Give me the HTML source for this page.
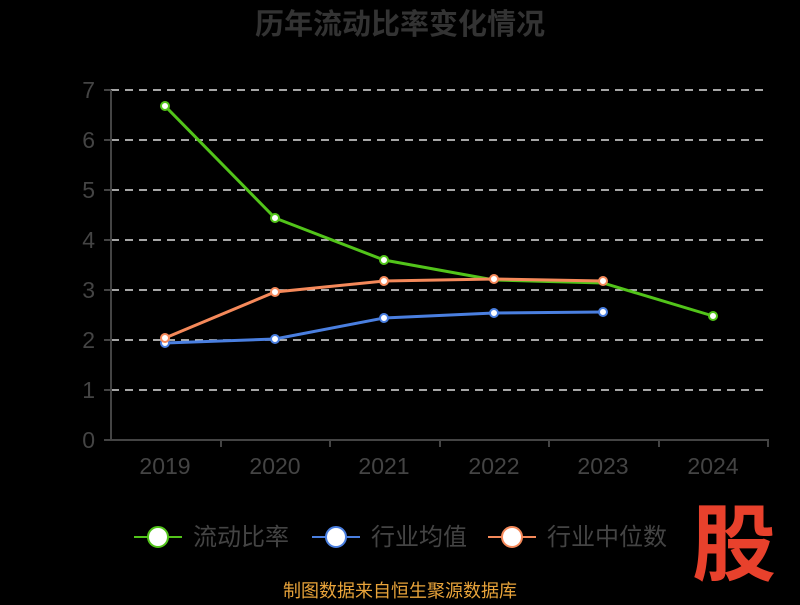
<!DOCTYPE html>
<html><head><meta charset="utf-8"><style>
body{margin:0;background:#000;width:800px;height:600px;overflow:hidden}
</style></head><body>
<svg width="800" height="600" xmlns="http://www.w3.org/2000/svg" font-family="Liberation Sans, Noto Sans CJK SC, sans-serif">
<rect width="800" height="600" fill="#000"/>
<text x="400" y="34" text-anchor="middle" font-size="29" font-weight="bold" fill="#333">历年流动比率变化情况</text>
<g stroke="#ddd" stroke-width="1.5" stroke-dasharray="8,6">
<line x1="111" x2="768" y1="90" y2="90"/><line x1="111" x2="768" y1="140" y2="140"/>
<line x1="111" x2="768" y1="190" y2="190"/><line x1="111" x2="768" y1="240" y2="240"/>
<line x1="111" x2="768" y1="290" y2="290"/><line x1="111" x2="768" y1="340" y2="340"/>
<line x1="111" x2="768" y1="390" y2="390"/>
</g>
<g stroke="#444" stroke-width="2">
<line x1="111" x2="111" y1="90" y2="441"/><line x1="110" x2="769" y1="440" y2="440"/>
<line x1="104" x2="111" y1="90" y2="90"/><line x1="104" x2="111" y1="140" y2="140"/><line x1="104" x2="111" y1="190" y2="190"/><line x1="104" x2="111" y1="240" y2="240"/><line x1="104" x2="111" y1="290" y2="290"/><line x1="104" x2="111" y1="340" y2="340"/><line x1="104" x2="111" y1="390" y2="390"/><line x1="104" x2="111" y1="440" y2="440"/>
<line x1="221" x2="221" y1="440" y2="447"/><line x1="330" x2="330" y1="440" y2="447"/><line x1="440" x2="440" y1="440" y2="447"/><line x1="549" x2="549" y1="440" y2="447"/><line x1="659" x2="659" y1="440" y2="447"/><line x1="768" x2="768" y1="440" y2="447"/>
</g>
<g fill="#444" font-size="23" text-anchor="end">
<text x="95" y="98">7</text><text x="95" y="148">6</text><text x="95" y="198">5</text><text x="95" y="248">4</text><text x="95" y="298">3</text><text x="95" y="348">2</text><text x="95" y="398">1</text><text x="95" y="448">0</text>
</g>
<g fill="#444" font-size="23" text-anchor="middle">
<text x="165" y="474">2019</text><text x="275" y="474">2020</text><text x="384" y="474">2021</text><text x="494" y="474">2022</text><text x="603" y="474">2023</text><text x="713" y="474">2024</text>
</g>
<polyline fill="none" stroke="#52c41a" stroke-width="3" points="165,106 275,218 384,260 494,280 603,283 713,316"/>
<polyline fill="none" stroke="#4a7fe0" stroke-width="3" points="165,343 275,339 384,318 494,313 603,312"/>
<polyline fill="none" stroke="#f5895a" stroke-width="3" points="165,338 275,292 384,281 494,279 603,281"/>
<g fill="#fff" stroke="#52c41a" stroke-width="2"><circle cx="165" cy="106" r="4"/><circle cx="275" cy="218" r="4"/><circle cx="384" cy="260" r="4"/><circle cx="713" cy="316" r="4"/></g>
<g fill="#fff" stroke="#4a7fe0" stroke-width="2"><circle cx="165" cy="343" r="4"/><circle cx="275" cy="339" r="4"/><circle cx="384" cy="318" r="4"/><circle cx="494" cy="313" r="4"/><circle cx="603" cy="312" r="4"/></g>
<g fill="#fff" stroke="#f5895a" stroke-width="2"><circle cx="165" cy="338" r="4"/><circle cx="275" cy="292" r="4"/><circle cx="384" cy="281" r="4"/><circle cx="494" cy="279" r="4"/><circle cx="603" cy="281" r="4"/></g>
<g font-size="24" fill="#444">
<line x1="134" x2="182" y1="537" y2="537" stroke="#52c41a" stroke-width="2"/><circle cx="158" cy="537" r="10" fill="#fff" stroke="#52c41a" stroke-width="2"/><text x="193" y="545">流动比率</text>
<line x1="312" x2="360" y1="537" y2="537" stroke="#4a7fe0" stroke-width="2"/><circle cx="336" cy="537" r="10" fill="#fff" stroke="#4a7fe0" stroke-width="2"/><text x="371" y="545">行业均值</text>
<line x1="488" x2="536" y1="537" y2="537" stroke="#f5895a" stroke-width="2"/><circle cx="512" cy="537" r="10" fill="#fff" stroke="#f5895a" stroke-width="2"/><text x="547" y="545">行业中位数</text>
</g>
<text x="734" y="574" text-anchor="middle" font-size="84" font-weight="bold" fill="#e8412c">股</text>
<text x="400" y="597" text-anchor="middle" font-size="18" fill="#e8a33a">制图数据来自恒生聚源数据库</text>
</svg>
</body></html>
